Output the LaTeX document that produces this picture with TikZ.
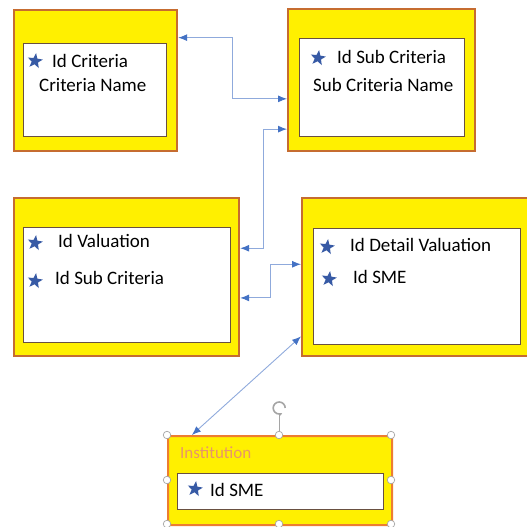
\documentclass[tikz,border=0pt]{standalone}
\usepackage{fontspec}
\setmainfont{Carlito}
\usetikzlibrary{arrows.meta, positioning, calc, shapes.geometric}
\definecolor{tableyellow}{RGB}{255,240,0}
\definecolor{tableedge}{RGB}{198,108,48}
\definecolor{instedge}{RGB}{237,125,49}
\definecolor{rowedge}{RGB}{105,80,65}
\definecolor{keyblue}{RGB}{55,90,165}
\definecolor{arrowblue}{RGB}{68,114,196}
\definecolor{linkblue}{RGB}{143,170,220}
\definecolor{handlegray}{RGB}{165,165,165}
\definecolor{insttext}{RGB}{232,150,105}

\begin{document}
\begin{tikzpicture}[x=1pt, y=-1pt,
  table/.style={draw=tableedge, line width=2.2pt, fill=tableyellow, inner sep=0, anchor=north west},
  rows/.style={draw=rowedge, line width=1pt, fill=white, inner sep=0, anchor=north west},
  field/.style={anchor=west, inner sep=0, font=\fontsize{19}{22}\selectfont},
  key/.style={star, star points=5, star point ratio=2.4, fill=keyblue, inner sep=0, minimum size=16pt, rotate=-8},
  link/.style={linkblue, line width=0.9pt, {Latex[length=9pt,width=7pt,color=arrowblue]}-{Latex[length=9pt,width=7pt,color=arrowblue]}},
  handle/.style={circle, draw=handlegray, fill=white, line width=0.7pt, inner sep=0, minimum size=7.5pt}]
  \useasboundingbox (0,0) rectangle (527,527);
  % Tables
  \node[table, minimum width=163pt, minimum height=141pt] (crit) at (13,9) {};
  \node[rows, minimum width=143pt, minimum height=93pt] (critrows) at (23,43) {};
  \node[table, minimum width=187pt, minimum height=142pt] (subc) at (287,8) {};
  \node[rows, minimum width=165pt, minimum height=98pt] (subcrows) at (299,38) {};
  \node[table, minimum width=225pt, minimum height=158pt] (val) at (13,197) {};
  \node[rows, minimum width=207pt, minimum height=115pt] (valrows) at (23,227) {};
  \node[table, minimum width=232pt, minimum height=158pt] (det) at (301,197) {};
  \node[rows, minimum width=207pt, minimum height=116pt] (detrows) at (313,228) {};
  \node[table, draw=instedge, rounded corners=2pt, minimum width=224pt, minimum height=89pt] (inst) at (167,435) {};
  \node[rows, minimum width=206pt, minimum height=36pt] (instrows) at (177,473) {};
  % Fields
  \node[key] (k1) at (35,61) {};
  \node[field] (critid) at (52,61) {Id Criteria};
  \node[field] (critname) at (39,85) {Criteria Name};
  \node[key] (k2) at (318,58) {};
  \node[field] (subcid) at (337,57) {Id Sub Criteria};
  \node[field] (subcname) at (313,85) {Sub Criteria Name};
  \node[key] (k3) at (35,243) {};
  \node[field] (valid) at (58,241) {Id Valuation};
  \node[key] (k4) at (35,281) {};
  \node[field] (valsub) at (55,278) {Id Sub Criteria};
  \node[key] (k5) at (327,247) {};
  \node[field] (detid) at (350,245) {Id Detail Valuation};
  \node[key] (k6) at (329,279) {};
  \node[field] (detsme) at (353,277) {Id SME};
  \node[field, font=\fontsize{17}{20}\selectfont, text=insttext] (instname) at (180,453) {Institution};
  \node[key] (k7) at (195,489) {};
  \node[field] (instsme) at (210,490) {Id SME};
  % Link ends
  \coordinate (critR) at ($(crit.north east)!0.2!(crit.south east)$);
  \coordinate (subcL1) at ($(subc.north west)!0.63!(subc.south west)$);
  \coordinate (subcL2) at ($(subc.north west)!0.84!(subc.south west)$);
  \coordinate (valR1) at ($(val.north east)!0.32!(val.south east)$);
  \coordinate (valR2) at ($(val.north east)!0.63!(val.south east)$);
  \coordinate (detL1) at ($(det.north west)!0.42!(det.south west)$);
  \coordinate (detL2) at ($(det.north west)!0.87!(det.south west)$);
  \coordinate (instT) at ($(inst.north west)!0.11!(inst.north east)$);
  % Links
  \draw[link] (critR) -| ($(critR)!.5!(subcL1)$) |- (subcL1);
  \draw[link] (subcL2) -| ($(subcL2)!.5!(valR1)$) |- (valR1);
  \draw[link] (detL1) -| ($(detL1)!.5!(valR2)$) |- (valR2);
  \draw[link] (detL2) -- (instT);
  % Selection handles
  \node[circle, inner sep=0, minimum size=12pt] (rot) at (279,408) {};
  \draw[handlegray, line width=1.6pt, -{Stealth[length=3.5pt]}] (rot.east) arc[start angle=0, end angle=300, radius=6pt];
  \foreach \x/\y/\q in {167/435/nw, 279/435/n, 391/435/ne, 167/480/w, 391/480/e, 167/524/sw, 279/524/s, 391/524/se}
    \node[handle] (h\q) at (\x,\y) {};
  \draw[handlegray, line width=0.7pt] (rot.south) -- (hn.north);
\end{tikzpicture}
\end{document}
